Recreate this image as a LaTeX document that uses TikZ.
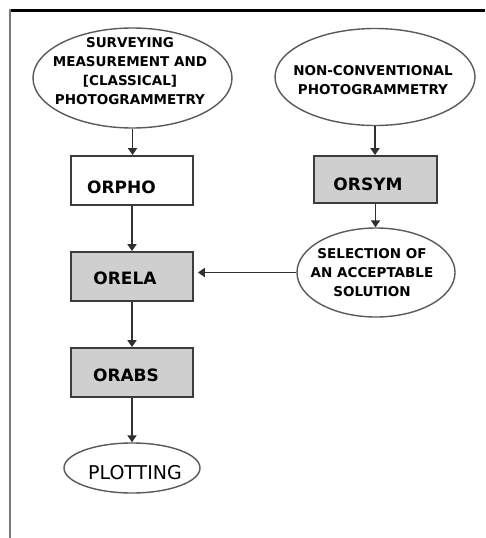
\documentclass[tikz,border=0pt]{standalone}
\usepackage{fontspec}
\setmainfont{DejaVu Sans}
\usetikzlibrary{shapes.geometric,arrows.meta}
\definecolor{boxfill}{HTML}{CFCFCF}
\definecolor{boxedge}{HTML}{3C3C3C}
\definecolor{linegray}{HTML}{303030}
\definecolor{ovalgray}{HTML}{5A5A5A}
\definecolor{framegray}{HTML}{7A7A7A}
\begin{document}
\begin{tikzpicture}[x=1pt,y=-1pt,
  oval/.style={ellipse,draw=ovalgray,line width=1.4pt,fill=white,inner sep=0pt},
  stepbox/.style={rectangle,draw=boxedge,line width=1.8pt,fill=white,inner sep=0pt,
    minimum width=122pt,minimum height=49pt},
  shaded/.style={stepbox,fill=boxfill},
  ovaltext/.style={font=\bfseries\fontsize{13.5}{19}\selectfont,align=center,inner sep=0pt},
  boxtext/.style={font=\bfseries\fontsize{17}{20}\selectfont,inner sep=0pt},
  flow/.style={draw=linegray,line width=1.8pt,-{Triangle[width=9pt,length=7pt]}}
]
\useasboundingbox (0,0) rectangle (485,538);
\fill[white] (0,0) rectangle (485,538);

% page frame: black rule on top, grey rule on the left
\draw[black,line width=3pt] (9,10.5) -- (485,10.5);
\draw[framegray,line width=2pt] (10,9) -- (10,538);

% starting points
\node[oval,minimum width=199pt,minimum height=100pt] (survey) at (132.5,78) {};
\node[ovaltext] (surveytxt) at (130,71)
  {SURVEYING\\MEASUREMENT AND\\ {[CLASSICAL]}\\PHOTOGRAMMETRY};
\node[oval,minimum width=200pt,minimum height=97pt] (noncon) at (375,77) {};
\node[ovaltext] (noncontxt) at (373,80) {NON-CONVENTIONAL\\PHOTOGRAMMETRY};

% orientation steps
\node[stepbox] (orpho) at (132,180.5) {};
\node[boxtext] (orphotxt) at (121.5,187) {ORPHO};
\node[shaded,minimum width=123pt,minimum height=47pt] (orsym) at (375.5,179.5) {};
\node[boxtext] (orsymtxt) at (368,184) {ORSYM};
\node[shaded] (orela) at (132,276.5) {};
\node[boxtext] (orelatxt) at (125,278.5) {ORELA};
\node[shaded] (orabs) at (132,372.5) {};
\node[boxtext] (orabstxt) at (126,375) {ORABS};

% selection and result
\node[oval,minimum width=158pt,minimum height=89pt] (select) at (376,272.5) {};
\node[ovaltext] (selecttxt) at (372,273) {SELECTION OF\\AN ACCEPTABLE\\SOLUTION};
\node[oval,minimum width=136pt,minimum height=50pt] (plot) at (132,468) {};
\node[inner sep=0pt,font=\fontsize{19}{22}\selectfont] (plottxt) at (135,473) {PLOTTING};

% flow
\draw[flow] (survey.south) -- (survey.south |- orpho.north);
\draw[flow] (noncon.south) -- (noncon.south |- orsym.north);
\draw[flow] (orpho) -- (orela);
\draw[flow] (orsym.south) -- (orsym.south |- select.north);
\draw[flow,shorten >=4pt] (select.west) -- (select.west -| orela.east);
\draw[flow] (orela) -- (orabs);
\draw[flow] (orabs) -- (plot);
\end{tikzpicture}
\end{document}
